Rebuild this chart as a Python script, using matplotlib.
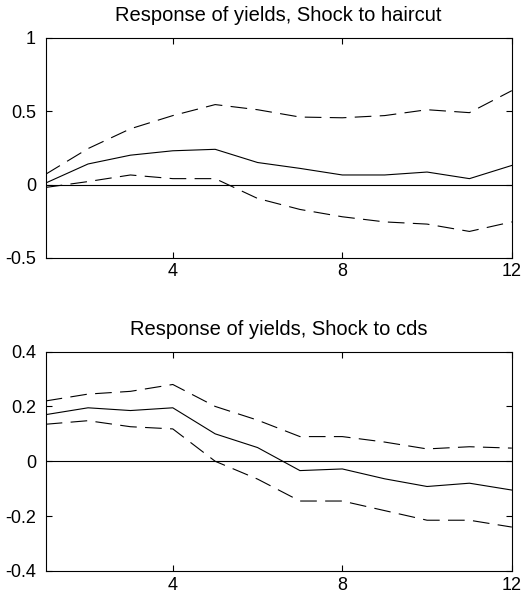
import matplotlib
matplotlib.use("Agg")
import matplotlib.pyplot as plt

plt.rcParams['font.family'] = ['Liberation Sans', 'DejaVu Sans']
plt.rcParams['lines.scale_dashes'] = False

horizon = [1, 2, 3, 4, 5, 6, 7, 8, 9, 10, 11, 12]

# shock to haircut
haircut_mid = [0.01, 0.14, 0.20, 0.23, 0.24, 0.15, 0.11, 0.065, 0.065, 0.085, 0.04, 0.13]
haircut_hi = [0.07, 0.245, 0.38, 0.47, 0.545, 0.51, 0.46, 0.455, 0.47, 0.51, 0.49, 0.64]
haircut_lo = [-0.02, 0.02, 0.065, 0.04, 0.04, -0.095, -0.17, -0.22, -0.255, -0.27, -0.32, -0.255]

# shock to cds
cds_mid = [0.17, 0.195, 0.185, 0.195, 0.10, 0.05, -0.034, -0.028, -0.064, -0.092, -0.08, -0.105]
cds_hi = [0.22, 0.245, 0.255, 0.28, 0.20, 0.15, 0.09, 0.09, 0.07, 0.045, 0.053, 0.048]
cds_lo = [0.135, 0.148, 0.126, 0.118, 0.0, -0.065, -0.145, -0.145, -0.18, -0.215, -0.215, -0.24]

fig = plt.figure(figsize=(5.22, 6.01), dpi=100)
ax1 = fig.add_axes([0.0875, 0.571, 0.893, 0.366])
ax2 = fig.add_axes([0.0875, 0.050, 0.893, 0.365])

panels = [
    (ax1, haircut_mid, haircut_hi, haircut_lo, 'Response of yields, Shock to haircut',
     (-0.5, 1), [-0.5, 0, 0.5, 1], ['-0.5', '0', '0.5', '1']),
    (ax2, cds_mid, cds_hi, cds_lo, 'Response of yields, Shock to cds',
     (-0.4, 0.4), [-0.4, -0.2, 0, 0.2, 0.4], ['-0.4', '-0.2', '0', '0.2', '0.4']),
]

for ax, mid, hi, lo, title, ylim, yt, ytl in panels:
    ax.plot(horizon, mid, color='black', lw=0.8)
    ax.plot(horizon, hi, color='black', lw=0.8, dashes=(12, 6))
    ax.plot(horizon, lo, color='black', lw=0.8, dashes=(12, 6))
    ax.axhline(0, color='black', lw=0.8)
    ax.set_xlim(1, 12)
    ax.set_ylim(*ylim)
    ax.set_xticks([4, 8, 12])
    ax.set_yticks(yt)
    ax.set_yticklabels(ytl)
    ax.tick_params(axis='both', direction='in', top=True, right=True, labelsize=13,
                   length=4, width=0.8)
    ax.tick_params(axis='y', pad=7)
    ax.tick_params(axis='x', pad=4)
    for s in ax.spines.values():
        s.set_linewidth(0.8)
    ax.set_title(title, fontsize=14.5, pad=12)

fig.savefig('out.png', dpi=100)
